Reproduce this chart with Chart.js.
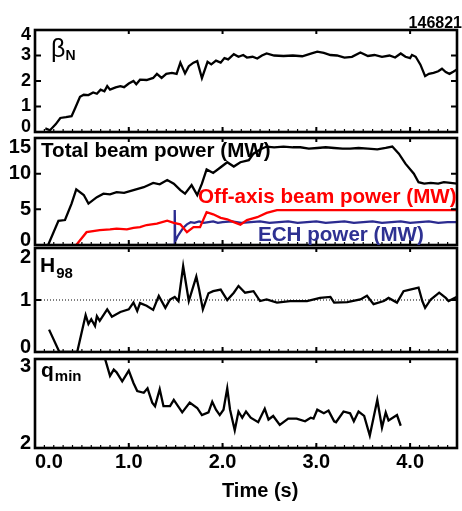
<!DOCTYPE html>
<html><head><meta charset="utf-8">
<script src="https://cdn.jsdelivr.net/npm/chart.js@4.4.1/dist/chart.umd.min.js"></script>
<style>
html,body{margin:0;padding:0;background:#fff;}
#wrap{position:relative;width:462px;height:511px;overflow:hidden;background:#fff;}
canvas{position:absolute;left:0;top:0;}
</style></head><body>
<div id="wrap">
<canvas id="c1" width="462" height="511"></canvas>
<canvas id="c2" width="462" height="511"></canvas>
<canvas id="c3" width="462" height="511"></canvas>
<canvas id="c4" width="462" height="511"></canvas>
</div>
<script>
// ---------- data ----------
const timeTicks = [0, 1, 2, 3, 4];
const timeTickLabels = ['0.0', '1.0', '2.0', '3.0', '4.0'];
const betaTicks = [0, 1, 2, 3, 4];
const powerTicks = [0, 5, 10, 15];
const h98Ticks = [0, 1, 2];
const qminTicks = [2, 3];
const shotNumber = '146821';

const betaT = [0.11,0.16,0.22,0.27,0.33,0.39,0.43,0.48,0.52,0.57,0.62,0.66,0.70,0.74,0.77,0.80,0.86,0.91,0.95,1.00,1.05,1.08,1.12,1.19,1.26,1.30,1.35,1.40,1.46,1.51,1.55,1.60,1.64,1.69,1.73,1.78,1.84,1.88,1.93,1.98,2.02,2.06,2.12,2.17,2.22,2.26,2.32,2.37,2.42,2.47,2.55,2.65,2.75,2.85,2.95,3.01,3.08,3.15,3.22,3.30,3.38,3.47,3.55,3.62,3.70,3.78,3.84,3.90,3.95,4.00,4.02,4.06,4.11,4.16,4.20,4.25,4.30,4.34,4.38,4.42,4.46,4.50];
const betaV = [0.14,0.07,0.30,0.55,0.58,0.62,0.95,1.38,1.46,1.45,1.55,1.50,1.66,1.60,1.80,1.66,1.75,1.80,1.76,1.90,2.00,1.87,2.05,2.04,2.12,2.28,2.12,2.28,2.32,2.28,2.72,2.30,2.58,2.72,2.78,2.11,2.75,2.65,2.80,2.72,2.90,2.85,3.05,2.95,3.02,2.92,2.95,2.88,3.00,3.08,3.00,2.98,3.00,2.97,3.08,3.15,3.10,3.02,3.00,2.92,2.95,3.12,2.98,3.02,2.95,3.00,2.92,3.08,2.95,2.90,3.02,2.95,2.64,2.19,2.28,2.32,2.38,2.48,2.35,2.28,2.36,2.45];

const beamT = [0.14,0.25,0.32,0.39,0.44,0.52,0.57,0.66,0.73,0.80,0.87,0.95,1.05,1.16,1.26,1.33,1.41,1.48,1.55,1.60,1.67,1.73,1.78,1.83,1.90,1.98,2.05,2.12,2.19,2.28,2.33,2.40,2.47,2.55,2.65,2.75,2.83,2.92,3.01,3.10,3.19,3.28,3.36,3.45,3.55,3.65,3.74,3.81,3.88,3.95,4.04,4.09,4.15,4.22,4.30,4.36,4.43,4.50];
const beamV = [0.0,3.4,3.5,5.8,7.8,7.0,5.8,6.7,7.2,7.1,7.4,7.3,7.7,8.1,8.7,8.5,9.1,8.6,7.7,7.2,8.4,7.0,8.6,10.6,10.1,10.9,11.6,11.0,11.6,11.9,12.8,13.4,13.8,13.7,13.8,13.7,13.7,13.5,13.6,13.7,13.6,13.5,13.5,13.6,13.5,13.4,13.6,13.8,12.8,11.4,10.0,8.8,8.6,8.7,8.6,8.8,8.7,8.6];

const offAxisT = [0.44,0.55,0.69,0.80,0.87,0.98,1.05,1.12,1.19,1.30,1.41,1.48,1.55,1.62,1.69,1.76,1.83,1.90,1.98,2.05,2.12,2.19,2.26,2.37,2.47,2.58,3.00,3.50,4.00,4.50];
const offAxisV = [0.0,1.8,2.1,2.2,2.3,2.2,2.4,2.5,2.8,3.0,3.4,3.1,2.9,1.8,2.5,2.5,4.6,4.3,3.8,3.6,3.2,2.85,3.5,3.9,4.5,4.9,4.9,4.9,4.9,4.9];

const echT = [1.40,1.485,1.49,1.495,1.52,1.55,1.58,1.62,1.66,1.70,1.75,1.80,1.85,1.90,1.95,2.00,2.10,2.20,2.30,2.40,2.50,2.60,2.70,2.80,2.90,3.00,3.10,3.20,3.30,3.40,3.50,3.60,3.70,3.80,3.90,4.00,4.10,4.20,4.30,4.40,4.50];
const echV = [0.0,0.0,4.9,0.5,1.2,1.8,2.4,2.9,3.2,3.1,3.3,3.1,3.2,3.3,3.1,3.2,3.3,3.1,3.2,3.3,3.1,3.2,3.3,3.1,3.2,3.3,3.1,3.2,3.3,3.1,3.2,3.3,3.1,3.2,3.3,3.1,3.2,3.3,3.1,3.2,3.2];

const h98T = [0.15,0.26,0.45,0.54,0.57,0.60,0.64,0.66,0.69,0.77,0.82,0.91,1.00,1.05,1.09,1.12,1.19,1.26,1.32,1.39,1.44,1.49,1.53,1.58,1.64,1.72,1.75,1.79,1.85,1.90,1.98,2.05,2.12,2.17,2.24,2.33,2.40,2.47,2.58,2.72,2.90,3.04,3.15,3.19,3.33,3.47,3.54,3.61,3.72,3.77,3.86,3.93,4.00,4.09,4.13,4.16,4.22,4.31,4.38,4.41,4.50];
const h98V = [0.43,0.0,0.0,0.71,0.54,0.63,0.50,0.69,0.60,0.82,0.68,0.77,0.82,0.95,0.79,0.94,0.89,0.81,1.08,0.85,1.01,1.06,0.98,1.65,0.98,1.45,1.20,0.82,1.13,1.17,1.20,1.00,1.14,1.27,1.14,1.17,0.98,1.01,0.95,0.98,0.98,1.04,1.06,0.95,0.96,1.01,1.08,0.92,0.98,1.04,0.95,1.17,1.20,1.24,0.98,0.85,1.01,1.14,1.04,0.98,1.06];
const refLineT = [0, 4.5];
const refLineV = [1, 1];

const qminT = [0.72,0.80,0.84,0.87,0.93,1.00,1.05,1.09,1.16,1.20,1.25,1.28,1.33,1.37,1.44,1.48,1.57,1.65,1.73,1.78,1.85,1.89,1.93,1.97,2.01,2.05,2.08,2.13,2.17,2.21,2.25,2.30,2.38,2.45,2.49,2.54,2.61,2.70,2.79,2.88,2.94,2.97,3.01,3.08,3.13,3.19,3.21,3.29,3.36,3.40,3.45,3.51,3.57,3.61,3.65,3.70,3.74,3.77,3.86,3.90];
const qminV = [3.10,2.81,2.88,2.85,2.75,2.87,2.73,2.64,2.62,2.67,2.51,2.47,2.66,2.47,2.47,2.54,2.40,2.51,2.45,2.37,2.40,2.52,2.43,2.37,2.43,2.67,2.43,2.20,2.41,2.34,2.41,2.34,2.29,2.44,2.32,2.36,2.26,2.33,2.33,2.30,2.34,2.33,2.43,2.39,2.42,2.30,2.29,2.41,2.39,2.30,2.41,2.36,2.14,2.34,2.54,2.23,2.40,2.31,2.37,2.25];

// ---------- helpers ----------
const FONT = "'Liberation Sans', Arial, Helvetica, sans-serif";
Chart.defaults.font.family = FONT;
const pts = (t, v) => t.map((x, i) => ({x, y: v[i]}));

const panelPlugin = {
  id: 'panel',
  afterDatasetsDraw(chart, args, o) {
    const {ctx, chartArea: a} = chart;
    const x = chart.scales.x, y = chart.scales.y;
    ctx.save();
    ctx.strokeStyle = '#000';
    ctx.lineWidth = 2;
    ctx.beginPath();
    timeTicks.forEach(v => {
      const px = x.getPixelForValue(v);
      if (px <= a.left + 2 || px >= a.right - 2) return;
      ctx.moveTo(px, a.bottom); ctx.lineTo(px, a.bottom - 5);
      ctx.moveTo(px, a.top); ctx.lineTo(px, a.top + 4);
    });
    o.yTicks.forEach(v => {
      const py = y.getPixelForValue(v);
      if (py <= a.top + 2 || py >= a.bottom - 2) return;
      ctx.moveTo(a.left, py); ctx.lineTo(a.left + 6, py);
      ctx.moveTo(a.right, py); ctx.lineTo(a.right - 6, py);
    });
    ctx.stroke();
    ctx.lineWidth = 1.2;
    ctx.beginPath();
    for (let k = 1; k < 45; k++) {
      const px = x.getPixelForValue(k / 10);
      ctx.moveTo(px, a.bottom); ctx.lineTo(px, a.bottom - 3);
    }
    ctx.stroke();
    ctx.lineWidth = 2.6;
    ctx.strokeRect(a.left, a.top, a.right - a.left, a.bottom - a.top);
    ctx.fillStyle = '#000';
    ctx.font = 'bold ' + o.labelSize + 'px ' + FONT;
    ctx.textAlign = 'right';
    ctx.textBaseline = 'middle';
    o.yTicks.forEach(v => {
      let py = y.getPixelForValue(v);
      py = Math.max(py, a.top + o.topShift);
      py = Math.min(py, a.bottom - 5);
      ctx.fillText(String(v), a.left - 4, py);
    });
    ctx.textBaseline = 'alphabetic';
    (o.texts || []).forEach(tx => {
      ctx.fillStyle = tx.color || '#000';
      ctx.textAlign = tx.align || 'left';
      if (tx.parts) {
        let cx = tx.x;
        ctx.textAlign = 'left';
        tx.parts.forEach(p => {
          ctx.font = p.font + ' ' + FONT;
          ctx.fillText(p.t, cx, tx.y + (p.dy || 0));
          cx += ctx.measureText(p.t).width + (p.gap || 0);
        });
      } else {
        ctx.font = tx.font + ' ' + FONT;
        ctx.fillText(tx.t, tx.x, tx.y);
      }
    });
    ctx.restore();
  }
};

function makePanel(id, top, bottom, yMin, yMax, datasets, opts, showX) {
  const xAxisH = 60;
  return new Chart(document.getElementById(id), {
    type: 'line',
    data: {datasets},
    plugins: [panelPlugin],
    options: {
      responsive: false,
      animation: false,
      devicePixelRatio: 1,
      layout: {padding: {left: 35, right: 5, top: top, bottom: showX ? 511 - bottom - xAxisH : 511 - bottom}},
      plugins: {legend: {display: false}, tooltip: {enabled: false}, panel: opts},
      elements: {point: {radius: 0}, line: {tension: 0}},
      scales: {
        x: {
          type: 'linear', min: 0, max: 4.5,
          display: showX,
          grid: {display: false, drawTicks: false},
          border: {display: false},
          afterBuildTicks: s => { s.ticks = timeTicks.concat([4.5]).map(v => ({value: v})); },
          afterFit: s => { if (showX) s.height = xAxisH; },
          ticks: {
            align: 'inner', autoSkip: false, maxRotation: 0, padding: 2,
            color: '#000', font: {size: 20, weight: 'bold'},
            callback: v => { const i = timeTicks.indexOf(v); return i >= 0 ? timeTickLabels[i] : ''; }
          }
        },
        y: {type: 'linear', min: yMin, max: yMax, display: false}
      }
    }
  });
}

const lineDs = (data, color, w) => ({data, borderColor: color, borderWidth: w || 2.3, pointRadius: 0, fill: false});

makePanel('c1', 30, 132, 0, 4, [lineDs(pts(betaT, betaV), '#000', 2.3)], {
  yTicks: betaTicks, labelSize: 18, topShift: 5,
  texts: [
    {parts: [{t: 'β', font: '25px'}, {t: 'N', font: 'bold 14px', dy: 3}], x: 51, y: 57},
    {t: shotNumber, font: 'bold 16px', x: 462, y: 28, align: 'right'}
  ]
}, false);

makePanel('c2', 138, 245, 0, 15, [
  lineDs(pts(beamT, beamV), '#000', 2.3),
  lineDs(pts(offAxisT, offAxisV), '#ff0000', 2.3),
  lineDs(pts(echT, echV), '#2b2b90', 2.3)
], {
  yTicks: powerTicks, labelSize: 20, topShift: 9,
  texts: [
    {t: 'Total beam power (MW)', font: 'bold 20.6px', x: 41, y: 157},
    {t: 'Off-axis beam power (MW)', font: 'bold 20.6px', x: 198, y: 203, color: '#ff0000'},
    {t: 'ECH power (MW)', font: 'bold 20.6px', x: 258, y: 241, color: '#2e3192'}
  ]
}, false);

makePanel('c3', 248, 352, 0, 2, [
  {data: pts(refLineT, refLineV), borderColor: '#000', borderWidth: 1, borderDash: [1, 2], pointRadius: 0},
  lineDs(pts(h98T, h98V), '#000', 2.3)
], {
  yTicks: h98Ticks, labelSize: 20, topShift: 9,
  texts: [
    {parts: [{t: 'H', font: 'bold 21px', gap: 1}, {t: '98', font: 'bold 15px', dy: 6}], x: 40, y: 272}
  ]
}, false);

makePanel('c4', 359, 448, 2, 3, [lineDs(pts(qminT, qminV), '#000', 2.3)], {
  yTicks: qminTicks, labelSize: 20, topShift: 7,
  texts: [
    {parts: [{t: 'q', font: 'bold 21px', gap: 1}, {t: 'min', font: 'bold 15px', dy: 4}], x: 41, y: 377},
    {t: 'Time (s)', font: 'bold 20px', x: 222, y: 497}
  ]
}, true);
</script>
</body></html>
